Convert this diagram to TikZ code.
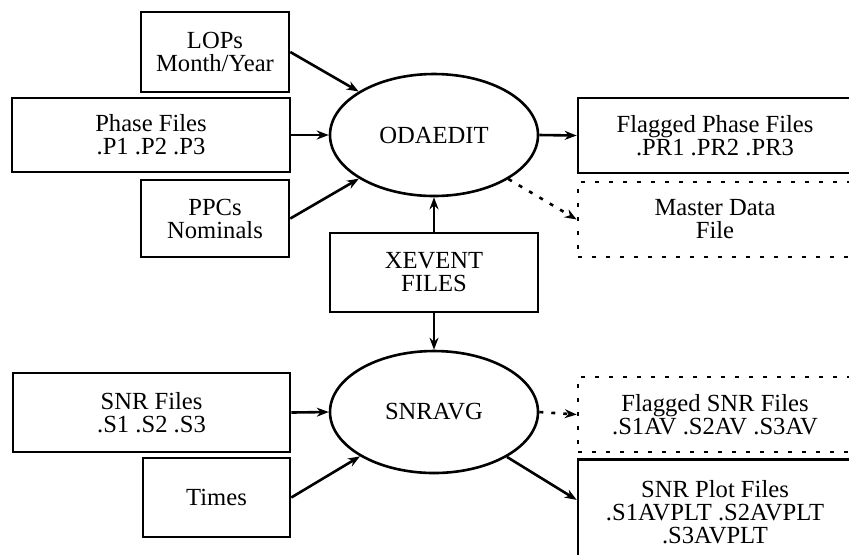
\documentclass[tikz,border=0pt]{standalone}
\usepackage{fontspec}
\setmainfont{Liberation Serif}
\usepackage{tikz}
\usetikzlibrary{shapes.geometric, arrows.meta}

\begin{document}
\begin{tikzpicture}[
    x=0.5pt, y=-0.5pt,
    file box/.style = {
        rectangle,
        draw=black,
        line width=1.3pt,
        align=center,
        inner sep=0pt,
        font=\fontsize{12.3}{11.5}\selectfont
    },
    dot box/.style = {
        file box,
        dash pattern=on 2pt off 5pt
    },
    prog node/.style = {
        ellipse,
        draw=black,
        line width=1.3pt,
        minimum width=104pt,
        minimum height=61pt,
        inner sep=0pt,
        font=\fontsize{12.3}{11.5}\selectfont
    },
    data ptr/.style = {-{Stealth[length=6pt,width=4.5pt]}, line width=1.3pt},
    dot ptr/.style = {data ptr, dash pattern=on 2pt off 4pt}
]
\useasboundingbox (0,0) rectangle (849,554);
\clip (0,0) rectangle (849,554);

\node [file box, minimum width=74pt, minimum height=40pt] (lops) at (215,52) {LOPs\\Month/Year};
\node [file box, minimum width=139pt, minimum height=37pt] (phase) at (151,135) {Phase Files\\.P1 .P2 .P3};
\node [file box, minimum width=74pt, minimum height=38.5pt] (ppcs) at (215,218.5) {PPCs\\Nominals};
\node [prog node] (odaedit) at (434,135) {ODAEDIT};
\node [file box, minimum width=104pt, minimum height=39.5pt] (xevent) at (434,272.5) {XEVENT\\FILES};
\node [file box, minimum width=137pt, minimum height=37.5pt] (flagphase) at (715,135.5) {Flagged Phase Files\\.PR1 .PR2 .PR3};
\node [dot box, minimum width=137pt, minimum height=37.5pt] (master) at (715,219.5) {Master Data\\File};

\node [file box, minimum width=138.5pt, minimum height=39.5pt] (snrfiles) at (151.5,412.5) {SNR Files\\.S1 .S2 .S3};
\node [file box, minimum width=73.5pt, minimum height=39.5pt] (times) at (216.5,497.5) {Times};
\node [prog node] (snravg) at (434,412) {SNRAVG};
\node [dot box, minimum width=137pt, minimum height=37.5pt] (flagsnr) at (715,414.5) {Flagged SNR Files\\.S1AV .S2AV .S3AV};
\node [file box, minimum width=137pt, minimum height=52.5pt] (snrplot) at (715,512) {SNR Plot Files\\.S1AVPLT .S2AVPLT\\.S3AVPLT};

\draw[data ptr] (lops.east) -- (odaedit);
\draw[data ptr] (phase.east) -- (odaedit.west);
\draw[data ptr] (ppcs.east) -- (odaedit);
\draw[data ptr] (odaedit.east) -- (flagphase.west);
\draw[dot ptr] (odaedit) -- (master.west);
\draw[data ptr] (xevent.north) -- (odaedit.south);
\draw[data ptr] (xevent.south) -- (snravg.north);

\draw[data ptr] (snrfiles.east) -- (snravg.west);
\draw[data ptr] (times.east) -- (snravg);
\draw[dot ptr] (snravg.east) -- (flagsnr.west);
\draw[data ptr] (snravg) -- (snrplot.175);

\end{tikzpicture}
\end{document}
